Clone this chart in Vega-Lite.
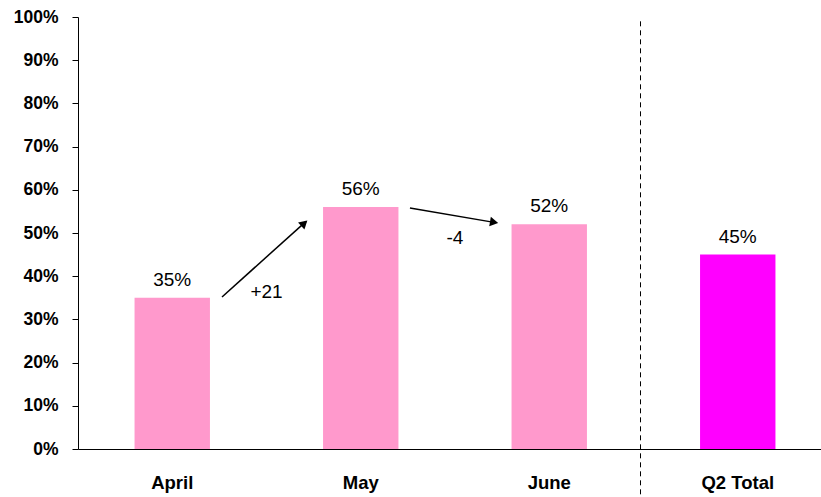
{
  "$schema": "https://vega.github.io/schema/vega-lite/v6.json",
  "width": 743,
  "height": 432,
  "autosize": {"type": "none"},
  "padding": {"left": 78, "top": 17, "right": 0, "bottom": 48},
  "background": "white",
  "config": {"view": {"stroke": null}, "font": "Liberation Sans"},
  "datasets": {
    "bars": [
      {"month": "April", "value": 0.35, "kind": "month"},
      {"month": "May", "value": 0.56, "kind": "month"},
      {"month": "June", "value": 0.52, "kind": "month"},
      {"month": "Q2 Total", "value": 0.45, "kind": "total"}
    ],
    "arrows": [
      {"id": "a1", "x": 0.764, "y": 0.352, "x2": 1.21, "y2": 0.527, "hx": 1.2005, "hy": 0.5225},
      {"id": "a2", "x": 1.761, "y": 0.558, "x2": 2.215, "y2": 0.524, "hx": 2.2074, "hy": 0.525}
    ],
    "deltas": [
      {"label": "+21", "x": 1.0, "y": 0.363},
      {"label": "-4", "x": 2.0, "y": 0.488}
    ],
    "divider": [{"x": 2.9841, "y": 0.99, "y2": -0.115}]
  },
  "resolve": {"scale": {"x": "independent"}},
  "layer": [
    {
      "data": {"name": "bars"},
      "mark": {"type": "bar"},
      "encoding": {
        "x": {
          "field": "month", "type": "nominal", "sort": null,
          "scale": {"range": [0, 754], "paddingInner": 0.6, "paddingOuter": 0.3},
          "axis": {"title": null, "labelAngle": 0, "ticks": false, "labelPadding": 24, "domainColor": "black", "labelFontWeight": "bold", "labelFontSize": 18.5, "labelColor": "black", "labelFont": "Liberation Sans"}
        },
        "y": {
          "field": "value", "type": "quantitative",
          "scale": {"domain": [0, 1], "nice": false},
          "axis": {"title": null, "values": [0, 0.1, 0.2, 0.3, 0.4, 0.5, 0.6, 0.7, 0.8, 0.9, 1.0], "format": ".0%", "grid": false, "tickSize": 6, "tickColor": "black", "domainColor": "black", "labelPadding": 14, "labelFontWeight": "bold", "labelFontSize": 17.5, "labelColor": "black", "labelFont": "Liberation Sans"}
        },
        "color": {"field": "kind", "type": "nominal", "scale": {"domain": ["month", "total"], "range": ["#FF99CC", "#FF00FF"]}, "legend": null}
      }
    },
    {
      "data": {"name": "bars"},
      "mark": {"type": "text", "baseline": "alphabetic", "dy": -12, "fontSize": 19, "color": "black", "font": "Liberation Sans"},
      "encoding": {
        "x": {"field": "month", "type": "nominal", "sort": null, "scale": {"range": [0, 754], "paddingInner": 0.6, "paddingOuter": 0.3}, "axis": null},
        "y": {"field": "value", "type": "quantitative"},
        "text": {"field": "value", "type": "quantitative", "format": ".0%"}
      }
    },
    {
      "data": {"name": "arrows"},
      "mark": {"type": "rule", "color": "black", "strokeWidth": 1.5},
      "encoding": {
        "x": {"field": "x", "type": "quantitative", "scale": {"domain": [0, 4], "range": [0, 754], "nice": false, "zero": false}, "axis": null},
        "x2": {"field": "x2"},
        "y": {"field": "y", "type": "quantitative"},
        "y2": {"field": "y2"}
      }
    },
    {
      "data": {"name": "arrows"},
      "transform": [{"filter": "datum.id === 'a1'"}],
      "mark": {"type": "point", "shape": "triangle-right", "filled": true, "color": "black", "size": 90, "angle": 318, "opacity": 1},
      "encoding": {
        "x": {"field": "hx", "type": "quantitative", "scale": {"domain": [0, 4], "range": [0, 754], "nice": false, "zero": false}, "axis": null},
        "y": {"field": "hy", "type": "quantitative"}
      }
    },
    {
      "data": {"name": "arrows"},
      "transform": [{"filter": "datum.id === 'a2'"}],
      "mark": {"type": "point", "shape": "triangle-right", "filled": true, "color": "black", "size": 90, "angle": 9.6, "opacity": 1},
      "encoding": {
        "x": {"field": "hx", "type": "quantitative", "scale": {"domain": [0, 4], "range": [0, 754], "nice": false, "zero": false}, "axis": null},
        "y": {"field": "hy", "type": "quantitative"}
      }
    },
    {
      "data": {"name": "deltas"},
      "mark": {"type": "text", "fontSize": 19, "color": "black", "font": "Liberation Sans", "baseline": "middle"},
      "encoding": {
        "x": {"field": "x", "type": "quantitative", "scale": {"domain": [0, 4], "range": [0, 754], "nice": false, "zero": false}, "axis": null},
        "y": {"field": "y", "type": "quantitative"},
        "text": {"field": "label", "type": "nominal"}
      }
    },
    {
      "data": {"name": "divider"},
      "mark": {"type": "rule", "color": "black", "strokeWidth": 1, "strokeDash": [5, 4]},
      "encoding": {
        "x": {"field": "x", "type": "quantitative", "scale": {"domain": [0, 4], "range": [0, 754], "nice": false, "zero": false}, "axis": null},
        "y": {"field": "y", "type": "quantitative"},
        "y2": {"field": "y2"}
      }
    }
  ]
}
